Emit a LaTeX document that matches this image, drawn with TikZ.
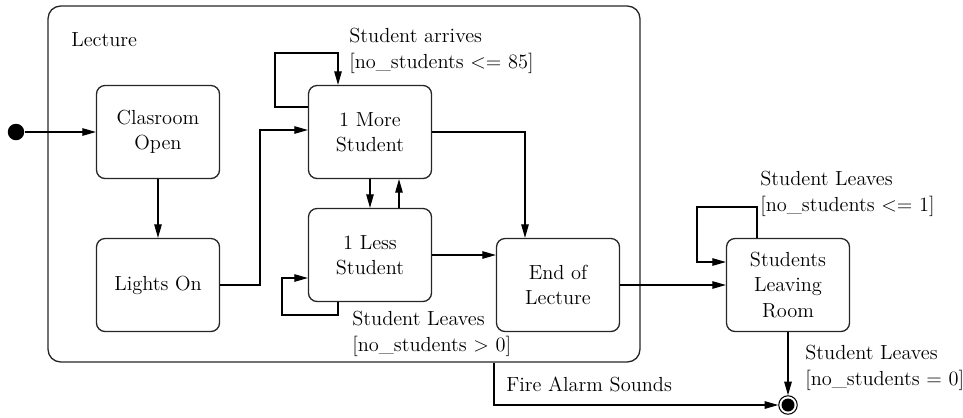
\documentclass[tikz,border=0pt]{standalone}
\usepackage{fontspec}
\usepackage{tikz}
\usetikzlibrary{positioning,arrows.meta}

\begin{document}
\begin{tikzpicture}[x=0.02cm, y=-0.02cm, font=\fontsize{11.6}{14.5}\selectfont,
  state/.style={draw=black!85, line width=0.75pt, rounded corners=0.17cm, minimum width=2.46cm, minimum height=1.86cm, align=center},
  arr/.style={-{Triangle[length=2.7mm,width=1.5mm]}, line width=0.6pt},
  lbl/.style={anchor=west, inner sep=0pt, align=left},
  initial/.style={circle, fill=black, minimum size=0.33cm, inner sep=0pt},
  final/.style={circle, draw, line width=0.6pt, minimum size=0.37cm, inner sep=0pt,
    path picture={\fill (path picture bounding box.center) circle (0.13cm);}}]
  \useasboundingbox (0,0) rectangle (963,417);
  % composite state
  \node[draw=black!85, line width=0.75pt, rounded corners=0.25cm, minimum width=11.84cm, minimum height=7.12cm] (lecture) at (344,184) {};
  \node[lbl] (lecturename) at (71,40) {Lecture};
  % states
  \node[initial] (init) at (16,132) {};
  \node[state] (open) at (158,132) {Clasroom\\Open};
  \node[state] (lights) at (158,285) {Lights On};
  \node[state] (more) at (370,132) {1 More\\Student};
  \node[state] (less) at (370,255) {1 Less\\Student};
  \node[state] (end) at (558,285) {End of\\Lecture};
  \node[state] (leave) at (788,285) {Students\\Leaving\\Room};
  \node[final] (final) at (788,405) {};
  % bends
  \coordinate (bend) at (260,130);
  \coordinate (moreloop) at (275,53);
  \coordinate (lessloop) at (282,315);
  \coordinate (leaveloop) at (697,207);
  \coordinate (alarm) at (494,404);
  % transitions
  \draw[arr] (init) -- (open);
  \draw[arr] (open) -- (lights);
  \draw[arr] (lights) -| (bend) -- (bend -| more.west);
  \draw[arr] ([yshift=0.5cm]more.west) -| (moreloop) -| ([xshift=-0.64cm]more.north);
  \draw[arr] (more.south) -- (less.north);
  \draw[arr] ([xshift=0.58cm]less.north) -- ([xshift=0.58cm]more.south);
  \draw[arr] (more) -| ([xshift=-0.66cm]end.north);
  \draw[arr] ([xshift=-0.64cm]less.south) |- (lessloop) |- ([yshift=-0.46cm]less.west);
  \draw[arr] (less.east) -- (less.east -| end.west);
  \draw[arr] (end) -- (leave);
  \draw[arr] ([xshift=-0.62cm]leave.north) |- (leaveloop) |- ([yshift=0.46cm]leave.west);
  \draw[arr] (leave) -- (final);
  \draw[arr] (lecture.south -| alarm) |- (final);
  % guards
  \node[lbl] (arrives) at (349,51) {Student arrives\\{[}no\_students <= 85{]}};
  \node[lbl] (leaves1) at (352,334) {Student Leaves\\{[}no\_students > 0{]}};
  \node[lbl] (leaves2) at (760,194) {Student Leaves\\{[}no\_students <= 1{]}};
  \node[lbl] (leaves3) at (805,368) {Student Leaves\\{[}no\_students = 0{]}};
  \node[lbl] (fire) at (506,384) {Fire Alarm Sounds};
\end{tikzpicture}
\end{document}
